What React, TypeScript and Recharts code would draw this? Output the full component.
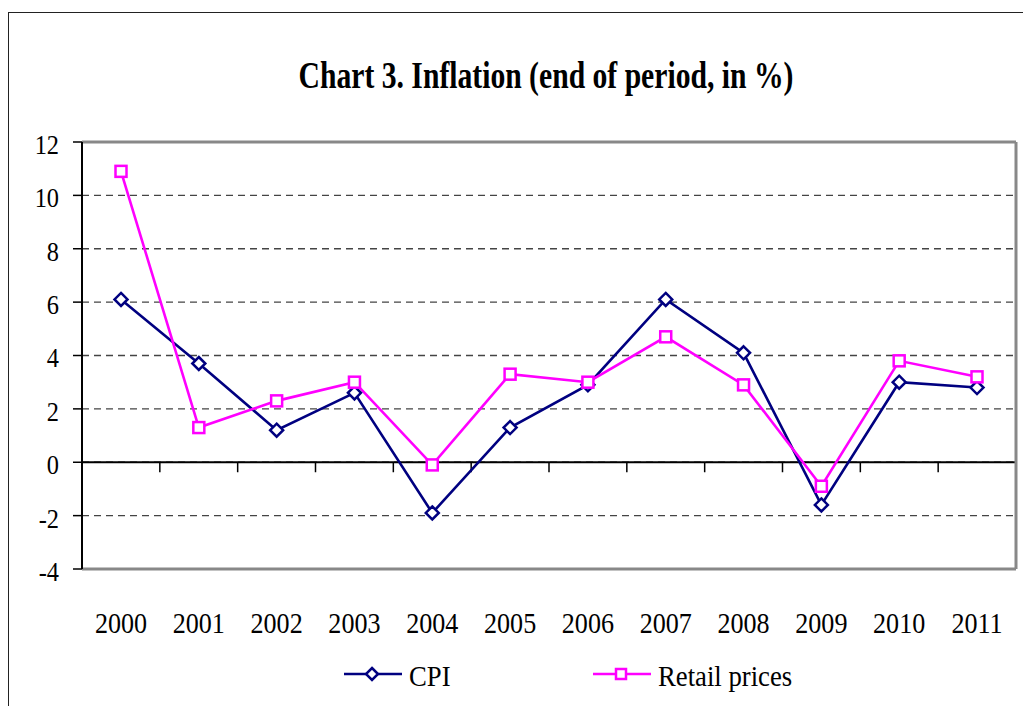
import { LineChart, Line, XAxis, YAxis, CartesianGrid, ReferenceLine } from 'recharts';

const years = ['2000', '2001', '2002', '2003', '2004', '2005', '2006', '2007', '2008', '2009', '2010', '2011'];
const cpi = [6.1, 3.7, 1.2, 2.6, -1.9, 1.3, 2.9, 6.1, 4.1, -1.6, 3.0, 2.8];
const retail = [10.9, 1.3, 2.3, 3.0, -0.1, 3.3, 3.0, 4.7, 2.9, -0.9, 3.8, 3.2];
const yTicks = [-4, -2, 0, 2, 4, 6, 8, 10, 12];
const seriesNames = ['CPI', 'Retail prices'];

const NAVY = '#000080';
const MAGENTA = '#ff00ff';
const FONT = "'Liberation Serif', 'Times New Roman', serif";

const data = years.map((year, i) => ({ year, cpi: cpi[i], retail: retail[i] }));

// diamond marker for CPI
const diamondDot = (props: any) => {
  const { cx, cy, index } = props;
  if (cx == null || cy == null) return <g key={`d-${index}`} />;
  const r = 6.5;
  return (
    <path
      key={`d-${index}`}
      d={`M${cx},${cy - r}L${cx + r},${cy}L${cx},${cy + r}L${cx - r},${cy}Z`}
      fill="#fff"
      stroke={NAVY}
      strokeWidth={2.5}
    />
  );
};

// square marker for retail prices
const squareDot = (props: any) => {
  const { cx, cy, index } = props;
  if (cx == null || cy == null) return <g key={`s-${index}`} />;
  const h = 5.5;
  return (
    <rect
      key={`s-${index}`}
      x={cx - h}
      y={cy - h}
      width={h * 2}
      height={h * 2}
      fill="#fff"
      stroke={MAGENTA}
      strokeWidth={2.5}
    />
  );
};

// zero line acts as the category axis, ticks sit between categories
const ZeroAxis = (props: any) => {
  const { x1, x2, y1 } = props;
  const left = Math.min(x1, x2);
  const right = Math.max(x1, x2);
  const step = (right - left) / years.length;
  return (
    <g>
      <line x1={left} y1={y1} x2={right} y2={y1} stroke="#000" strokeWidth={2} />
      {years.concat(['']).map((_, i) => (
        <line
          key={i}
          x1={left + step * i}
          x2={left + step * i}
          y1={y1}
          y2={y1 + 10}
          stroke="#000"
          strokeWidth={1.5}
        />
      ))}
    </g>
  );
};

const YTick = (props: any) => {
  const { x, y, payload } = props;
  return (
    <text
      x={x}
      y={y + 12}
      textAnchor="end"
      fontSize={28}
      fontFamily={FONT}
      fill="#000"
      transform={`translate(${x} 0) scale(0.87 1) translate(${-x} 0)`}
    >
      {payload.value}
    </text>
  );
};

const XTick = (props: any) => {
  const { x, payload } = props;
  return (
    <text
      x={x}
      y={633}
      textAnchor="middle"
      fontSize={29}
      fontFamily={FONT}
      fill="#000"
      transform={`translate(${x} 0) scale(0.9 1) translate(${-x} 0)`}
    >
      {payload.value}
    </text>
  );
};

function LegendItem({ left, name, marker, color }: { left: number; name: string; marker: 'diamond' | 'square'; color: string }) {
  return (
    <>
      <svg width={58} height={20} style={{ position: 'absolute', left, top: 664 }}>
        <line x1={0} y1={10} x2={58} y2={10} stroke={color} strokeWidth={2.5} />
        {marker === 'diamond' ? (
          <path d="M28,4L34,10L28,16L22,10Z" fill="#fff" stroke={color} strokeWidth={2.5} />
        ) : (
          <rect x={23} y={5} width={10} height={10} fill="#fff" stroke={color} strokeWidth={2.5} />
        )}
      </svg>
      <div
        style={{
          position: 'absolute',
          left: left + 65,
          top: 661,
          fontFamily: FONT,
          fontSize: 30,
          lineHeight: 1,
          whiteSpace: 'nowrap',
          transform: 'scaleX(0.89)',
          transformOrigin: 'left center',
        }}
      >
        {name}
      </div>
    </>
  );
}

export default function App() {
  return (
    <div
      style={{
        position: 'absolute',
        left: 0,
        top: 0,
        width: 1023,
        height: 706,
        overflow: 'hidden',
        background: '#fff',
      }}
    >
      <div
        style={{
          position: 'absolute',
          left: 8,
          top: 12,
          width: 1200,
          height: 900,
          borderLeft: '1.5px solid #222',
          borderTop: '1.5px solid #222',
        }}
      />
      <div
        style={{
          position: 'absolute',
          left: 546,
          top: 56,
          fontFamily: FONT,
          fontWeight: 'bold',
          fontSize: 38,
          lineHeight: 1,
          whiteSpace: 'nowrap',
          transform: 'translateX(-50%) scaleX(0.78)',
        }}
      >
        Chart 3. Inflation (end of period, in %)
      </div>
      <div style={{ position: 'absolute', left: 0, top: 0 }}>
        <LineChart width={1023} height={706} data={data} margin={{ top: 142, right: 6, bottom: 0, left: 0 }}>
          <CartesianGrid vertical={false} stroke="#444" strokeDasharray="7 5" strokeWidth={1.3} />
          <ReferenceLine y={12} stroke="#888" strokeWidth={3} />
          <ReferenceLine y={-4} stroke="#888" strokeWidth={3} />
          <ReferenceLine y={0} shape={ZeroAxis} />
          <XAxis
            dataKey="year"
            height={137}
            padding={{ left: 39, right: 39 }}
            axisLine={false}
            tickLine={false}
            tick={<XTick />}
            interval={0}
          />
          <YAxis
            width={82}
            domain={[-4, 12]}
            ticks={yTicks}
            interval={0}
            axisLine={{ stroke: '#000', strokeWidth: 2 }}
            tickLine={{ stroke: '#000', strokeWidth: 1.5 }}
            tickSize={9}
            tickMargin={14}
            tick={<YTick />}
          />
          <YAxis
            yAxisId="right"
            orientation="right"
            width={1}
            domain={[-4, 12]}
            axisLine={{ stroke: '#888', strokeWidth: 3 }}
            tick={false}
            tickLine={false}
          />
          <Line
            dataKey="cpi"
            name={seriesNames[0]}
            stroke={NAVY}
            strokeWidth={2.6}
            dot={diamondDot}
            isAnimationActive={false}
          />
          <Line
            dataKey="retail"
            name={seriesNames[1]}
            stroke={MAGENTA}
            strokeWidth={2.6}
            dot={squareDot}
            isAnimationActive={false}
          />
        </LineChart>
      </div>
      <LegendItem left={344} name={seriesNames[0]} marker="diamond" color={NAVY} />
      <LegendItem left={593} name={seriesNames[1]} marker="square" color={MAGENTA} />
    </div>
  );
}
